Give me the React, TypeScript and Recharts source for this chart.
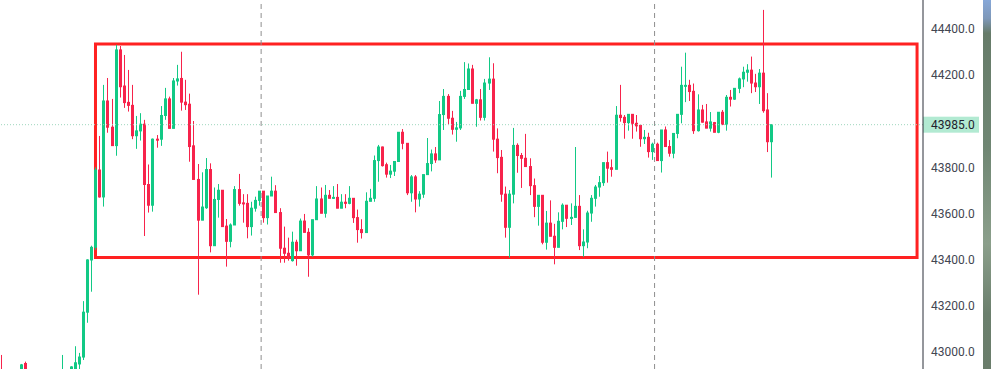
import { Bar, ComposedChart, ReferenceArea, ReferenceLine, XAxis, YAxis } from "recharts";

// OHLC, one entry per candle (left to right)
const opens = [
  42915, 42895, 42885, 42890, 42880, 42905, 42947, 42910, 42890, 42875, 42895, 42880, 42870, 42885, 42895, 42890,
  42910, 42900, 42915, 42945, 42975, 43170, 43397, 43452, 43788, 43671, 44088, 43974, 43894, 44310, 44153, 44082,
  44069, 43937, 43958, 43987, 43725, 43635, 43922, 43922, 44025, 44097, 43969, 44175, 44186, 44083, 44074, 43893,
  43747, 43570, 43624, 43790, 43459, 43660, 43700, 43544, 43478, 43549, 43703, 43645, 43643, 43542, 43622, 43656,
  43696, 43581, 43675, 43696, 43603, 43448, 43426, 43394, 43474, 43437, 43566, 43517, 43419, 43572, 43662, 43600,
  43678, 43665, 43669, 43622, 43648, 43643, 43665, 43581, 43529, 43516, 43652, 43665, 43829, 43888, 43811, 43770,
  43783, 43825, 43952, 43904, 43689, 43758, 43662, 43683, 43768, 43816, 43858, 43832, 44029, 44108, 44013, 43965,
  43971, 44108, 44138, 44227, 44078, 44093, 44017, 44166, 44183, 43922, 43843, 43683, 43539, 43683, 43895, 43851,
  43839, 43803, 43720, 43630, 43678, 43474, 43557, 43500, 43452, 43565, 43635, 43578, 43582, 43630, 43459, 43475,
  43601, 43665, 43714, 43733, 43820, 43798, 43791, 44026, 44017, 43994, 44030, 43991, 43982, 43924, 43930, 43868,
  43900, 43829, 43962, 43890, 43861, 43947, 44030, 44153, 44156, 44130, 43959, 44049, 43997, 43970, 43994, 43952,
  44039, 43987, 44104, 44096, 44143, 44184, 44213, 44222, 44166, 44150, 44209, 44049, 43911,
];
const highs = [
  42984, 42912, 42905, 42910, 42915, 42945, 42955, 42918, 42905, 42900, 42912, 42895, 42890, 42905, 42915, 42984,
  42918, 42935, 43022, 42993, 43218, 43400, 43459, 43800, 43936, 44158, 44188, 44097, 44332, 44327, 44288, 44223,
  44158, 44023, 44035, 44006, 43812, 43925, 43940, 44066, 44145, 44107, 44188, 44245, 44302, 44180, 44120, 44001,
  43814, 43778, 43840, 43817, 43712, 43727, 43700, 43575, 43556, 43718, 43771, 43683, 43683, 43650, 43672, 43696,
  43696, 43675, 43759, 43722, 43622, 43542, 43494, 43520, 43485, 43577, 43597, 43535, 43572, 43718, 43712, 43723,
  43701, 43718, 43727, 43683, 43683, 43718, 43665, 43616, 43574, 43691, 43706, 43851, 43897, 43890, 43820, 43810,
  43827, 43952, 43966, 43904, 43766, 43766, 43696, 43768, 43927, 43877, 43888, 44088, 44140, 44118, 44045, 43997,
  44132, 44257, 44251, 44245, 44097, 44140, 44184, 44278, 44252, 43969, 43875, 43716, 43701, 43971, 43904, 43862,
  43945, 43839, 43751, 43678, 43678, 43610, 43656, 43554, 43604, 43643, 43635, 43643, 43888, 43679, 43530, 43611,
  43679, 43723, 43762, 43820, 43868, 43834, 44066, 44158, 44027, 44030, 44030, 44027, 43982, 43962, 43950, 43907,
  43907, 43962, 43977, 43918, 43947, 44030, 44237, 44298, 44180, 44164, 44117, 44071, 44075, 44040, 43997, 44039,
  44049, 44114, 44136, 44143, 44190, 44237, 44248, 44281, 44206, 44227, 44484, 44122, 43985,
];
const lows = [
  42880, 42870, 42860, 42875, 42870, 42895, 42900, 42880, 42865, 42860, 42870, 42855, 42850, 42870, 42880, 42880,
  42890, 42895, 42905, 42920, 42962, 43124, 43259, 43440, 43668, 43629, 43950, 43894, 43850, 44103, 44058, 44042,
  43922, 43880, 43916, 43501, 43603, 43607, 43885, 43893, 44006, 43969, 43969, 44155, 44046, 44049, 43824, 43747,
  43246, 43570, 43619, 43430, 43459, 43581, 43542, 43368, 43452, 43549, 43633, 43559, 43491, 43503, 43607, 43633,
  43559, 43551, 43675, 43603, 43385, 43385, 43394, 43390, 43372, 43437, 43517, 43324, 43411, 43572, 43600, 43581,
  43665, 43662, 43622, 43622, 43622, 43639, 43558, 43472, 43490, 43516, 43652, 43650, 43737, 43803, 43755, 43753,
  43762, 43825, 43878, 43679, 43650, 43604, 43629, 43667, 43768, 43782, 43819, 43832, 43962, 43986, 43942, 43911,
  43962, 44097, 44136, 44078, 43976, 44003, 44003, 44136, 43868, 43774, 43650, 43494, 43407, 43643, 43776, 43710,
  43801, 43679, 43583, 43546, 43465, 43442, 43500, 43378, 43452, 43530, 43540, 43549, 43582, 43440, 43411, 43448,
  43563, 43629, 43672, 43719, 43733, 43759, 43791, 43998, 43924, 43959, 43924, 43955, 43889, 43901, 43842, 43832,
  43829, 43777, 43888, 43846, 43839, 43926, 43991, 44083, 44088, 43945, 43955, 43994, 43970, 43955, 43952, 43948,
  43983, 43959, 44064, 44093, 44122, 44148, 44172, 44122, 44127, 44075, 44037, 43866, 43755,
];
const closes = [
  42895, 42885, 42890, 42880, 42900, 42941, 42910, 42890, 42875, 42895, 42880, 42870, 42885, 42895, 42890, 42910,
  42900, 42932, 42950, 42975, 43170, 43397, 43452, 43788, 43671, 44088, 43974, 43894, 44310, 44150, 44081, 44069,
  43937, 43958, 43987, 43725, 43635, 43922, 43918, 44025, 44097, 43969, 44175, 44184, 44083, 44072, 43890, 43747,
  43570, 43627, 43790, 43459, 43660, 43700, 43542, 43478, 43549, 43703, 43643, 43641, 43542, 43622, 43656, 43696,
  43581, 43675, 43696, 43603, 43448, 43426, 43409, 43474, 43437, 43566, 43517, 43419, 43572, 43662, 43600, 43678,
  43665, 43669, 43622, 43648, 43643, 43665, 43581, 43529, 43516, 43652, 43665, 43829, 43888, 43807, 43770, 43783,
  43825, 43952, 43904, 43689, 43758, 43662, 43683, 43768, 43816, 43858, 43832, 44029, 44108, 44013, 43965, 43971,
  44108, 44138, 44227, 44078, 44093, 44017, 44166, 44183, 43922, 43842, 43683, 43539, 43683, 43895, 43851, 43839,
  43803, 43720, 43630, 43678, 43474, 43557, 43500, 43452, 43565, 43635, 43578, 43582, 43630, 43459, 43475, 43601,
  43665, 43714, 43733, 43820, 43796, 43791, 44026, 44016, 43994, 44030, 43991, 43980, 43924, 43930, 43868, 43900,
  43829, 43962, 43890, 43861, 43947, 44030, 44156, 44156, 44129, 43959, 44049, 43996, 43970, 43997, 43952, 44039,
  43987, 44104, 44096, 44143, 44184, 44213, 44222, 44166, 44150, 44209, 44046, 43911, 43985,
];

// 44000.0 is covered by the last-price tag in the reference, so it is left out
const priceTicks = [43000, 43200, 43400, 43600, 43800, 44200, 44400];
const lastPrice = 43985;
const sessionBreaks = [63.5, 159.5];

const up = "#12c985";
const down = "#f7234b";

const data = opens.map((open, i) => ({
  i,
  open,
  high: highs[i],
  low: lows[i],
  close: closes[i],
  range: [lows[i], highs[i]],
}));

function Candle(props: any) {
  const { x, y, width, height, payload } = props;
  if (x == null || y == null) return null;
  const { open, close, high, low } = payload;
  const span = high - low || 1;
  const py = (v: number) => y + ((high - v) / span) * height;
  const cx = Math.floor(x + width / 2) + 0.5;
  const color = close >= open ? up : down;
  const top = py(Math.max(open, close));
  const bottom = py(Math.min(open, close));
  return (
    <g>
      <line x1={cx} x2={cx} y1={y} y2={y + height} stroke={color} strokeWidth={1} />
      <rect
        x={cx - 1}
        y={top}
        width={2}
        height={Math.max(bottom - top, 1)}
        fill={color}
        fillOpacity={0.5}
        stroke={color}
        strokeWidth={1}
      />
    </g>
  );
}

function PriceTag(props: any) {
  const { viewBox } = props;
  const x = viewBox.x + viewBox.width;
  const y = viewBox.y;
  return (
    <g>
      <rect x={x} y={y - 8} width={56} height={16} fill="#b2ead2" />
      <text x={x + 8} y={y} dy="0.355em" fontSize={12} fontFamily="Roboto, Arial, sans-serif" fill="#1e222d">
        {lastPrice.toFixed(1)}
      </text>
    </g>
  );
}

export default function App() {
  return (
    <div style={{ position: "absolute", left: 0, top: 0, width: 991, height: 369, background: "#fff", overflow: "hidden" }}>
      <ComposedChart width={991} height={369} data={data} margin={{ top: 0, right: 0, bottom: 0, left: 0 }}>
        <XAxis dataKey="i" type="number" domain={[-0.22, 225]} allowDataOverflow hide />
        <YAxis
          orientation="right"
          width={68}
          domain={[42923, 44527]}
          allowDataOverflow
          ticks={priceTicks}
          interval={0}
          tickLine={false}
          axisLine={{ stroke: "#2a2e39" }}
          tick={{ fill: "#434651", fontSize: 12, fontFamily: "Roboto, Arial, sans-serif" }}
          tickFormatter={(v) => Number(v).toFixed(1)}
        />
        {sessionBreaks.map((b) => (
          <ReferenceLine key={b} x={b} stroke="#8e8e8e" strokeDasharray="5 4" />
        ))}
        <ReferenceLine y={lastPrice} stroke="#9fd6bd" strokeDasharray="1 2" label={<PriceTag />} />
        <Bar dataKey="range" barSize={3} shape={<Candle />} isAnimationActive={false} />
        <ReferenceArea
          x1={23.08}
          x2={223.55}
          y1={43408}
          y2={44336}
          fill="none"
          fillOpacity={0}
          stroke="#ff2121"
          strokeWidth={3}
          ifOverflow="visible"
        />
      </ComposedChart>
      <div
        style={{
          position: "absolute",
          right: 0,
          top: 0,
          width: 8,
          height: 369,
          background:
            "linear-gradient(to bottom, #86a7d8 0%, #7e98b9 5%, #667b69 9%, #6f8673 40%, #8b9f8b 66%, #6b7f6d 85%, #6a7d6b 100%)",
        }}
      />
    </div>
  );
}
